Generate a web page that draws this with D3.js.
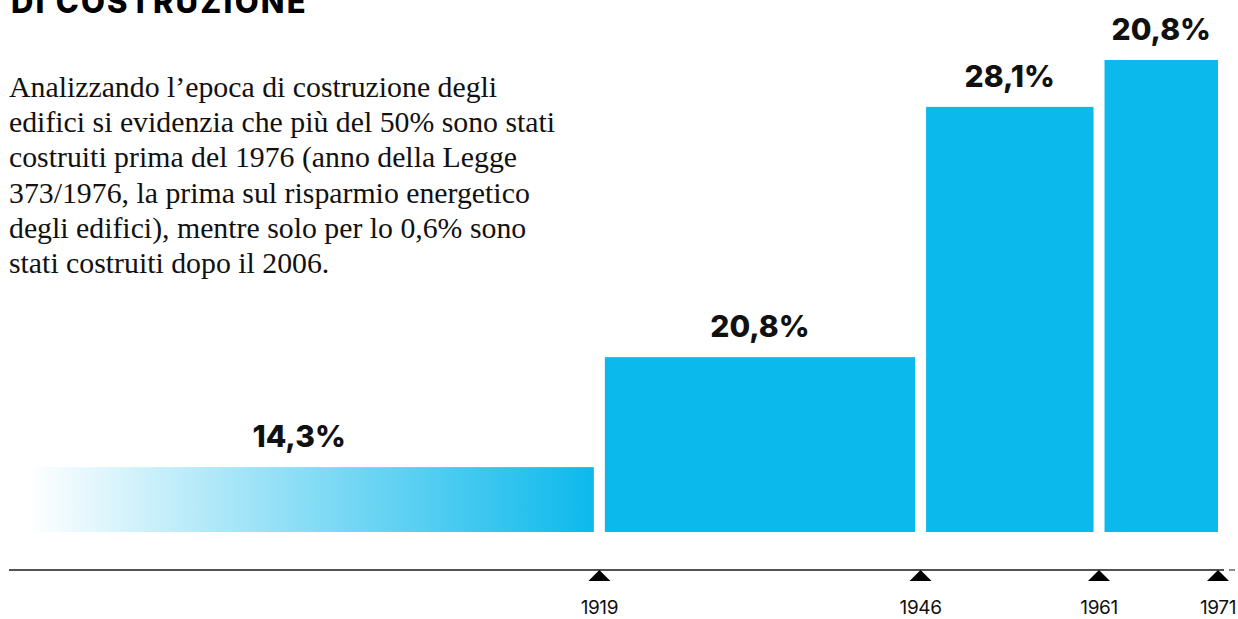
<!DOCTYPE html>
<html>
<head>
<meta charset="utf-8">
<script src="https://cdn.jsdelivr.net/npm/d3@7"></script>
<style>
  html, body { margin: 0; padding: 0; background: #fff; }
  svg { display: block; }
</style>
</head>
<body>
<svg id="chart" width="1238" height="619"></svg>
<script>
// Construction periods: each bin spans [binStart, binEnd) in years
const binStart = [1869, 1919, 1946, 1961];
const binEnd   = [1919, 1946, 1961, 1971];
// Share of buildings built in each period (%)
const shares   = [14.3, 20.8, 28.1, 20.8];
const shareLabels = ["14,3%", "20,8%", "28,1%", "20,8%"];
// Years marked on the time axis
const tickYears = [1919, 1946, 1961, 1971];

const titleText = "DI COSTRUZIONE";
const introLines = [
  "Analizzando l\u2019epoca di costruzione degli",
  "edifici si evidenzia che più del 50% sono stati",
  "costruiti prima del 1976 (anno della Legge",
  "373/1976, la prima sul risparmio energetico",
  "degli edifici), mentre solo per lo 0,6% sono",
  "stati costruiti dopo il 2006."
];

const W = 1238, H = 619;
const BLUE = "#0cb9ec";
const baseY = 532, topY = 60, axisY = 570;
const gap = 5.5;

const svg = d3.select("#chart");

// Bars are a histogram: height = share per year of the period
const bins = binStart.map((s, i) => ({
  start: s, end: binEnd[i], share: shares[i], label: shareLabels[i],
  density: shares[i] / (binEnd[i] - s)
}));

const x = d3.scaleLinear().domain([1869, 1971]).range([4.5, 1218]);
const y = d3.scaleLinear().domain([0, d3.max(bins, d => d.density)]).range([baseY, topY]);

// Fading fill for the open-ended first period
const defs = svg.append("defs");
const grad = defs.append("linearGradient").attr("id", "fade").attr("x1", "0").attr("x2", "1").attr("y1", "0").attr("y2", "0");
grad.append("stop").attr("offset", "4%").attr("stop-color", BLUE).attr("stop-opacity", 0);
grad.append("stop").attr("offset", "100%").attr("stop-color", BLUE).attr("stop-opacity", 1);

const last = bins.length - 1;
const x0 = (d, i) => i === 0 ? x(d.start) : x(d.start) + gap;
const x1 = (d, i) => i === last ? x(d.end) : x(d.end) - gap;

svg.append("g").selectAll("rect")
  .data(bins)
  .join("rect")
  .attr("x", (d, i) => x0(d, i))
  .attr("y", d => y(d.density))
  .attr("width", (d, i) => x1(d, i) - x0(d, i))
  .attr("height", d => y(0) - y(d.density))
  .attr("fill", (d, i) => i === 0 ? "url(#fade)" : BLUE);

// Value labels above each bar
svg.append("g").selectAll("text")
  .data(bins)
  .join("text")
  .attr("x", (d, i) => (x0(d, i) + x1(d, i)) / 2)
  .attr("y", d => y(d.density) - 20)
  .attr("text-anchor", "middle")
  .attr("font-family", "Inter, 'Open Sans', sans-serif")
  .attr("font-weight", 800)
  .attr("font-size", 30)
  .attr("fill", "#111")
  .text(d => d.label);

// Time axis: a plain line with triangular markers
svg.append("line")
  .attr("x1", 9).attr("x2", 1224)
  .attr("y1", axisY).attr("y2", axisY)
  .attr("stroke", "#1a1a1a").attr("stroke-width", 1.5);
svg.append("line")
  .attr("x1", 1229).attr("x2", 1235)
  .attr("y1", axisY).attr("y2", axisY)
  .attr("stroke", "#1a1a1a").attr("stroke-width", 1);

const ticks = svg.append("g").selectAll("g")
  .data(tickYears)
  .join("g")
  .attr("transform", d => `translate(${x(d)},${axisY})`);
ticks.append("path")
  .attr("d", "M0,0 L11,11 L-11,11 Z")
  .attr("fill", "#000");
ticks.append("text")
  .attr("y", 44)
  .attr("text-anchor", "middle")
  .attr("font-family", "Inter, 'Open Sans', sans-serif")
  .attr("font-size", 19)
  .attr("letter-spacing", -0.4)
  .attr("fill", "#111")
  .text(d => d);

// Heading (continues above the visible area)
svg.append("text")
  .attr("x", 11).attr("y", 13)
  .attr("font-family", "Inter, 'Open Sans', sans-serif")
  .attr("font-weight", 800)
  .attr("font-size", 31)
  .attr("letter-spacing", 2.2)
  .attr("fill", "#000")
  .text(titleText);

// Intro paragraph
svg.append("g").selectAll("text")
  .data(introLines)
  .join("text")
  .attr("x", 9)
  .attr("y", (d, i) => 97 + i * 35.2)
  .attr("font-family", "'Liberation Serif', 'DejaVu Serif', serif")
  .attr("font-size", 29.8)
  .attr("fill", "#111")
  .text(d => d);
</script>
</body>
</html>
